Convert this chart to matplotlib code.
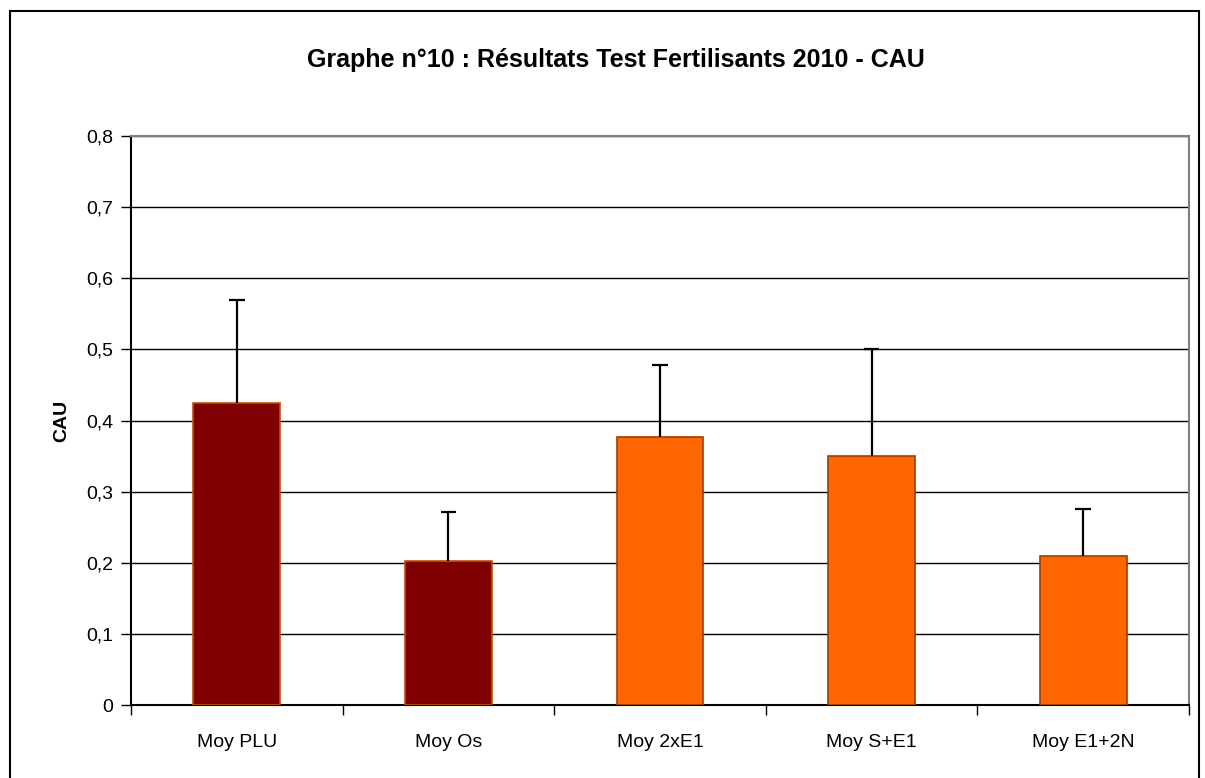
import numpy as np
import matplotlib.pyplot as plt
from matplotlib.patches import Rectangle

plt.rcParams['font.family'] = ['Liberation Sans', 'DejaVu Sans']

# Data
categories = ["Moy PLU", "Moy Os", "Moy 2xE1", "Moy S+E1", "Moy E1+2N"]
means = [0.424, 0.203, 0.377, 0.350, 0.210]
errors = [0.146, 0.068, 0.101, 0.151, 0.066]
colors = ["#800000", "#800000", "#FF6600", "#FF6600", "#FF6600"]
edges = ["#C05000", "#C05000", "#A03C00", "#A03C00", "#A03C00"]
yticks = [0, 0.1, 0.2, 0.3, 0.4, 0.5, 0.6, 0.7, 0.8]
ytick_labels = ["0", "0,1", "0,2", "0,3", "0,4", "0,5", "0,6", "0,7", "0,8"]

fig = plt.figure(figsize=(12.05, 7.78), dpi=100)
W, H = 1205, 778
ax = fig.add_axes([131 / W, 1 - 705 / H, (1189 - 131) / W, (705 - 136) / H])

x = np.arange(len(categories))
means = np.array(means)
errors = np.array(errors)
ax.bar(x, means, width=0.41, color=colors, edgecolor=edges, linewidth=1.2, zorder=3)
# upper-only error bars
ax.vlines(x, means, means + errors, color="black", linewidth=1.6, zorder=4)
ax.hlines(means + errors, x - 0.037, x + 0.037, color="black", linewidth=1.6, zorder=4)

ax.set_xlim(-0.5, len(categories) - 0.5)
ax.set_ylim(0, 0.8)
ax.set_yticks(yticks)
ax.set_yticklabels(ytick_labels, fontsize=14)
ax.yaxis.grid(True, color="black", linewidth=1, zorder=0)
ax.set_axisbelow(True)

# category labels centered, ticks on boundaries
ax.set_xticks(x)
ax.set_xticklabels(categories, fontsize=14)
ax.tick_params(axis="x", length=0, pad=21)
ax.set_xticks(np.arange(-0.5, len(categories)), minor=True)
ax.tick_params(axis="x", which="minor", length=7, width=1, color="black")
ax.tick_params(axis="y", length=7, width=1, color="black", pad=6)

for side in ["top", "right"]:
    ax.spines[side].set_color("#808080")
    ax.spines[side].set_linewidth(1.5)
for side in ["left", "bottom"]:
    ax.spines[side].set_color("black")
    ax.spines[side].set_linewidth(1.5)

ax.set_ylabel("CAU", fontsize=14, fontweight="bold", labelpad=11)

fig.text(616 / W, 1 - 60 / H, "Graphe n°10 : Résultats Test Fertilisants 2010 - CAU",
         ha="center", va="center", fontsize=18, fontweight="bold")

# outer chart frame
fig.patches.append(Rectangle((10 / W, -0.05), (1199 - 10) / W, 1 - 11 / H + 0.05,
                             transform=fig.transFigure, fill=False,
                             edgecolor="black", linewidth=1.5))

fig.savefig("out.png", dpi=100)
